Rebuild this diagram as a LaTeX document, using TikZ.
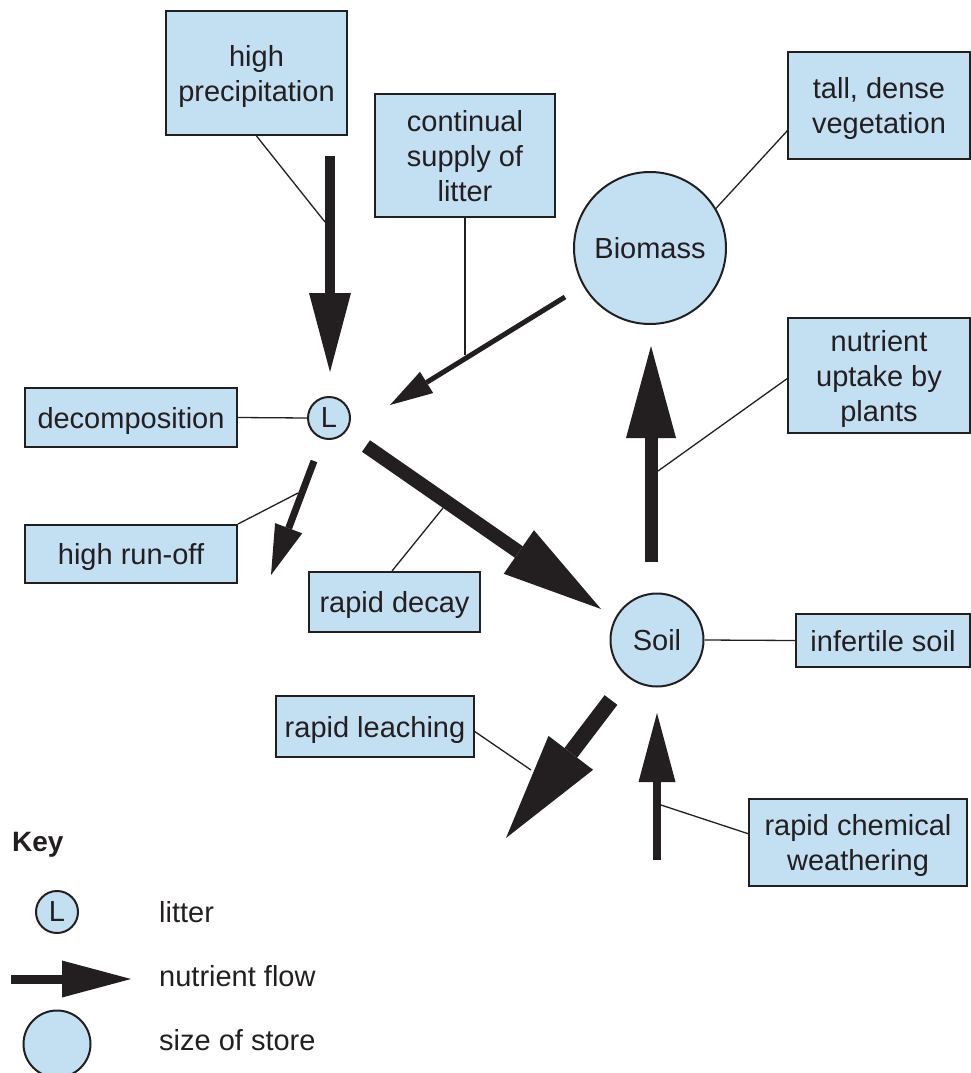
\documentclass[tikz,border=0pt]{standalone}
\usepackage{fontspec}
\setmainfont{Liberation Sans}
\usetikzlibrary{arrows.meta}
\definecolor{boxblue}{HTML}{C3DFF2}
\definecolor{ink}{HTML}{231F20}
\begin{document}
\begin{tikzpicture}[x=1pt,y=-1pt,
  lbl/.style={draw=ink,line width=2pt,fill=boxblue,inner sep=0pt,align=center,text=ink,
     text depth=0pt,font=\fontsize{29}{35}\selectfont},
  store/.style={circle,draw=ink,line width=2pt,fill=boxblue,inner sep=0pt,text=ink,
     font=\fontsize{29}{35}\selectfont},
  lead/.style={draw=ink,line width=1.3pt},
  flow/.style={draw=ink,fill=ink},
  keytext/.style={anchor=base west,inner sep=0pt,text=ink,font=\fontsize{29}{35}\selectfont}]
\useasboundingbox (0,0) rectangle (971,1073);
% boxes
\node[lbl,minimum width=181pt,minimum height=124pt] (prec) at (256.5,73) {high\\precipitation};
\node[lbl,minimum width=180pt,minimum height=123pt] (supply) at (465,155.5) {continual\\supply of\\litter};
\node[lbl,minimum width=182pt,minimum height=107pt] (tall) at (879,105.5) {tall, dense\\vegetation};
\node[lbl,minimum width=182pt,minimum height=115pt] (uptake) at (879,375.5) {nutrient\\uptake by\\plants};
\node[lbl,minimum width=212pt,minimum height=59pt] (decomp) at (131,417.5) {decomposition};
\node[lbl,minimum width=212pt,minimum height=58pt] (runoff) at (131,554) {high run-off};
\node[lbl,minimum width=171pt,minimum height=60pt] (decay) at (394.5,602) {rapid decay};
\node[lbl,minimum width=174pt,minimum height=53pt] (infert) at (883,640.5) {infertile soil};
\node[lbl,minimum width=198pt,minimum height=61pt] (leach) at (375,726.5) {rapid leaching};
\node[lbl,minimum width=218pt,minimum height=87pt] (weath) at (858,842.5) {rapid chemical\\weathering};
% stores
\node[store,minimum size=42pt] (L) at (329,418) {L};
\node[store,minimum size=152pt] (bio) at (650,248) {Biomass};
\node[store,minimum size=93pt] (soil) at (657,640) {Soil};
% flow arrow coordinates
\coordinate (a1s) at (330,156); \coordinate (a1e) at (330,372);
\coordinate (a2s) at (565,297); \coordinate (a2e) at (390,405);
\coordinate (a3s) at (366,446); \coordinate (a3e) at (601,609);
\coordinate (a4s) at (314,461); \coordinate (a4e) at (271,575);
\coordinate (a5s) at (651,562); \coordinate (a5e) at (651,346);
\coordinate (a6s) at (611,700); \coordinate (a6e) at (506,838);
\coordinate (a7s) at (657,860); \coordinate (a7e) at (657,713);
% flow arrows
\draw[flow,line width=10pt,-{Triangle[length=79pt,width=42pt,line width=0pt]}] (a1s) -- (a1e);
\draw[flow,line width=5pt,-{Triangle[length=43pt,width=25pt,line width=0pt]}] (a2s) -- (a2e);
\draw[flow,line width=14pt,-{Triangle[length=100pt,width=53pt,line width=0pt]}] (a3s) -- (a3e);
\draw[flow,line width=7pt,-{Triangle[length=50pt,width=29pt,line width=0pt]}] (a4s) -- (a4e);
\draw[flow,line width=13pt,-{Triangle[length=92pt,width=50pt,line width=0pt]}] (a5s) -- (a5e);
\draw[flow,line width=16pt,-{Triangle[length=107pt,width=56pt,line width=0pt]}] (a6s) -- (a6e);
\draw[flow,line width=8pt,-{Triangle[length=69pt,width=37pt,line width=0pt]}] (a7s) -- (a7e);
% leader line junctions
\coordinate (p1) at (325,222);
\coordinate (p2) at (465,355);
\coordinate (p3a) at (788,130);
\coordinate (p4a) at (788,378); \coordinate (p4) at (658,471);
\coordinate (p5) at (298,493); 
\coordinate (p6) at (443,508);
\coordinate (p7a) at (474,731); \coordinate (p7) at (531,770);
\coordinate (p8a) at (749,834); \coordinate (p8) at (661,805);
% leader lines
\draw[lead] (prec.south) -- (p1);
\draw[lead] (supply.south) -- (p2);
\draw[lead] (p3a) -- (bio.31);
\draw[lead] (p4a) -- (p4);
\draw[lead] (decomp.east) -- (L.west);
\draw[lead] (runoff.north east) -- (p5);
\draw[lead] (decay.north) ++(-2.5pt,0) -- (p6);
\draw[lead] (soil.east) -- (infert.west);
\draw[lead] (p7a) -- (p7);
\draw[lead] (p8a) -- (p8);
% key
\node[anchor=base west,inner sep=0pt,text=ink,font=\fontsize{28}{34}\selectfont\bfseries] (keyt) at (12,851) {Key};
\node[store,minimum size=42pt] (kL) at (57,912) {L};
\node[keytext] (klit) at (159,922) {litter};
\coordinate (ks) at (11,979); \coordinate (ke) at (131,979);
\draw[flow,line width=9pt,-{Triangle[length=69pt,width=37pt,line width=0pt]}] (ks) -- (ke);
\node[keytext] (kflow) at (159,986) {nutrient flow};
\node[store,minimum size=67pt] (kstore) at (57,1044) {};
\node[keytext] (ksize) at (159,1050) {size of store};
\end{tikzpicture}
\end{document}
